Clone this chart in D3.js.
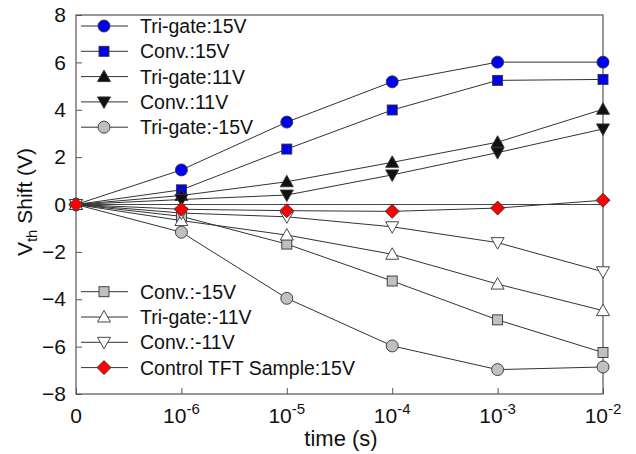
<!DOCTYPE html>
<html><head><meta charset="utf-8">
<script src="https://cdn.jsdelivr.net/npm/d3@7"></script>
<style>body{margin:0;background:#fff}svg{display:block}text{font-family:"Liberation Sans",Arial,sans-serif;fill:#111}</style>
</head><body>
<svg id="c" width="636" height="454"></svg>
<script>
const timeLabels = [null, -6, -5, -4, -3, -2]; // exponent of 10; null = "0"
const triGate15 = [0, 1.46, 3.48, 5.18, 6.01, 6.01];
const conv15 = [0, 0.62, 2.34, 3.99, 5.24, 5.28];
const triGate11 = [0, 0.38, 0.96, 1.78, 2.63, 4.02];
const conv11 = [0, 0.21, 0.40, 1.25, 2.19, 3.19];
const triGateN15 = [0, -1.17, -3.96, -5.97, -6.97, -6.86];
const convN15 = [0, -0.5, -1.67, -3.23, -4.87, -6.25];
const triGateN11 = [0, -0.68, -1.29, -2.1, -3.36, -4.48];
const convN11 = [0, -0.36, -0.52, -0.94, -1.61, -2.84];
const control15 = [0, -0.2, -0.26, -0.29, -0.15, 0.18];
const yTicks = [-8, -6, -4, -2, 0, 2, 4, 6, 8];

const series = [
  {name:"Tri-gate:15V", v:triGate15, sym:"circle", fill:"#0000ee"},
  {name:"Conv.:15V", v:conv15, sym:"square", fill:"#0000ee"},
  {name:"Tri-gate:11V", v:triGate11, sym:"up", fill:"#111"},
  {name:"Conv.:11V", v:conv11, sym:"down", fill:"#111"},
  {name:"Tri-gate:-15V", v:triGateN15, sym:"circle", fill:"#c0c0c0"},
  {name:"Conv.:-15V", v:convN15, sym:"square", fill:"#c0c0c0"},
  {name:"Tri-gate:-11V", v:triGateN11, sym:"up", fill:"#fff"},
  {name:"Conv.:-11V", v:convN11, sym:"down", fill:"#fff"},
  {name:"Control TFT Sample:15V", v:control15, sym:"diamond", fill:"#ff0000"}
];

const L=76,R=603,T=15,B=394;
const svg=d3.select("#c");
const x=d3.scaleLinear().domain([0,5]).range([L,R]);
const y=d3.scaleLinear().domain([-8,8]).range([B,T]);

function sym(g,type,cx,cy,fill){
  let p;
  if(type==="circle") p=g.append("circle").attr("cx",cx).attr("cy",cy).attr("r",6);
  else if(type==="square") p=g.append("rect").attr("x",cx-5).attr("y",cy-5).attr("width",10).attr("height",10);
  else if(type==="up") p=g.append("path").attr("d",`M${cx},${cy-6.5}L${cx+6.5},${cy+5}L${cx-6.5},${cy+5}Z`);
  else if(type==="down") p=g.append("path").attr("d",`M${cx},${cy+6.5}L${cx+6.5},${cy-5}L${cx-6.5},${cy-5}Z`);
  else p=g.append("path").attr("d",`M${cx},${cy-7}L${cx+7},${cy}L${cx},${cy+7}L${cx-7},${cy}Z`);
  p.attr("fill",fill).attr("stroke","#333").attr("stroke-width",0.9);
}

// zero line
svg.append("line").attr("x1",L).attr("x2",R).attr("y1",y(0)).attr("y2",y(0)).attr("stroke","#444").attr("stroke-width",1);

// frame
svg.append("rect").attr("x",L).attr("y",T).attr("width",R-L).attr("height",B-T).attr("fill","none").attr("stroke","#555").attr("stroke-width",1.2);

// axes
const yAxis=d3.axisLeft(y).tickValues(yTicks).tickSizeInner(-6).tickSizeOuter(0).tickPadding(10);
const ga=svg.append("g").attr("transform",`translate(${L},0)`).call(yAxis);
ga.select(".domain").remove();
ga.selectAll("line").attr("stroke","#555");
ga.selectAll("text").style("font-size","21px").attr("fill","#111").attr("font-family","Liberation Sans, Arial, sans-serif");

const xAxis=d3.axisBottom(x).tickValues(d3.range(6)).tickSizeInner(-6).tickSizeOuter(0).tickFormat(()=> "");
const gx=svg.append("g").attr("transform",`translate(0,${B})`).call(xAxis);
gx.select(".domain").remove();
gx.selectAll("line").attr("stroke","#555");
timeLabels.forEach((e,i)=>{
  const t=svg.append("text").attr("y",B+29).style("font-size","21px").attr("x",x(i)).attr("text-anchor","middle");
  if(e===null){ t.text("0"); }
  else {
    t.append("tspan").text("10");
    t.append("tspan").attr("dy",-9).style("font-size","15px").text(String(e));
  }
});

// axis titles
svg.append("text").attr("x",341).attr("y",446).attr("text-anchor","middle").style("font-size","22px").text("time (s)");
const yt=svg.append("text").attr("transform",`translate(32,202) rotate(-90)`).attr("text-anchor","middle").style("font-size","21px");
yt.append("tspan").text("V");
yt.append("tspan").attr("dy",5).style("font-size","15px").text("th");
yt.append("tspan").attr("dy",-5).text(" Shift (V)");

// series
const line=d3.line().x((d,i)=>x(i)).y(d=>y(d));
series.forEach(s=>{
  svg.append("path").attr("d",line(s.v)).attr("fill","none").attr("stroke","#333").attr("stroke-width",1);
});
series.forEach(s=>{
  const g=svg.append("g");
  s.v.forEach((d,i)=>sym(g,s.sym,x(i),y(d),s.fill));
});

// legends
const legTop=[26,51.3,76.6,101.9,127.2];
const legBot=[291.7,317,342.3,367.6];
series.forEach((s,i)=>{
  const ly = i<5 ? legTop[i] : legBot[i-5];
  const g=svg.append("g");
  g.append("line").attr("x1",81).attr("x2",128).attr("y1",ly).attr("y2",ly).attr("stroke","#333").attr("stroke-width",1);
  sym(g,s.sym,104,ly,s.fill);
  g.append("text").attr("x",140).attr("y",ly+7).style("font-size","19.5px").text(s.name);
});
</script>
</body></html>
